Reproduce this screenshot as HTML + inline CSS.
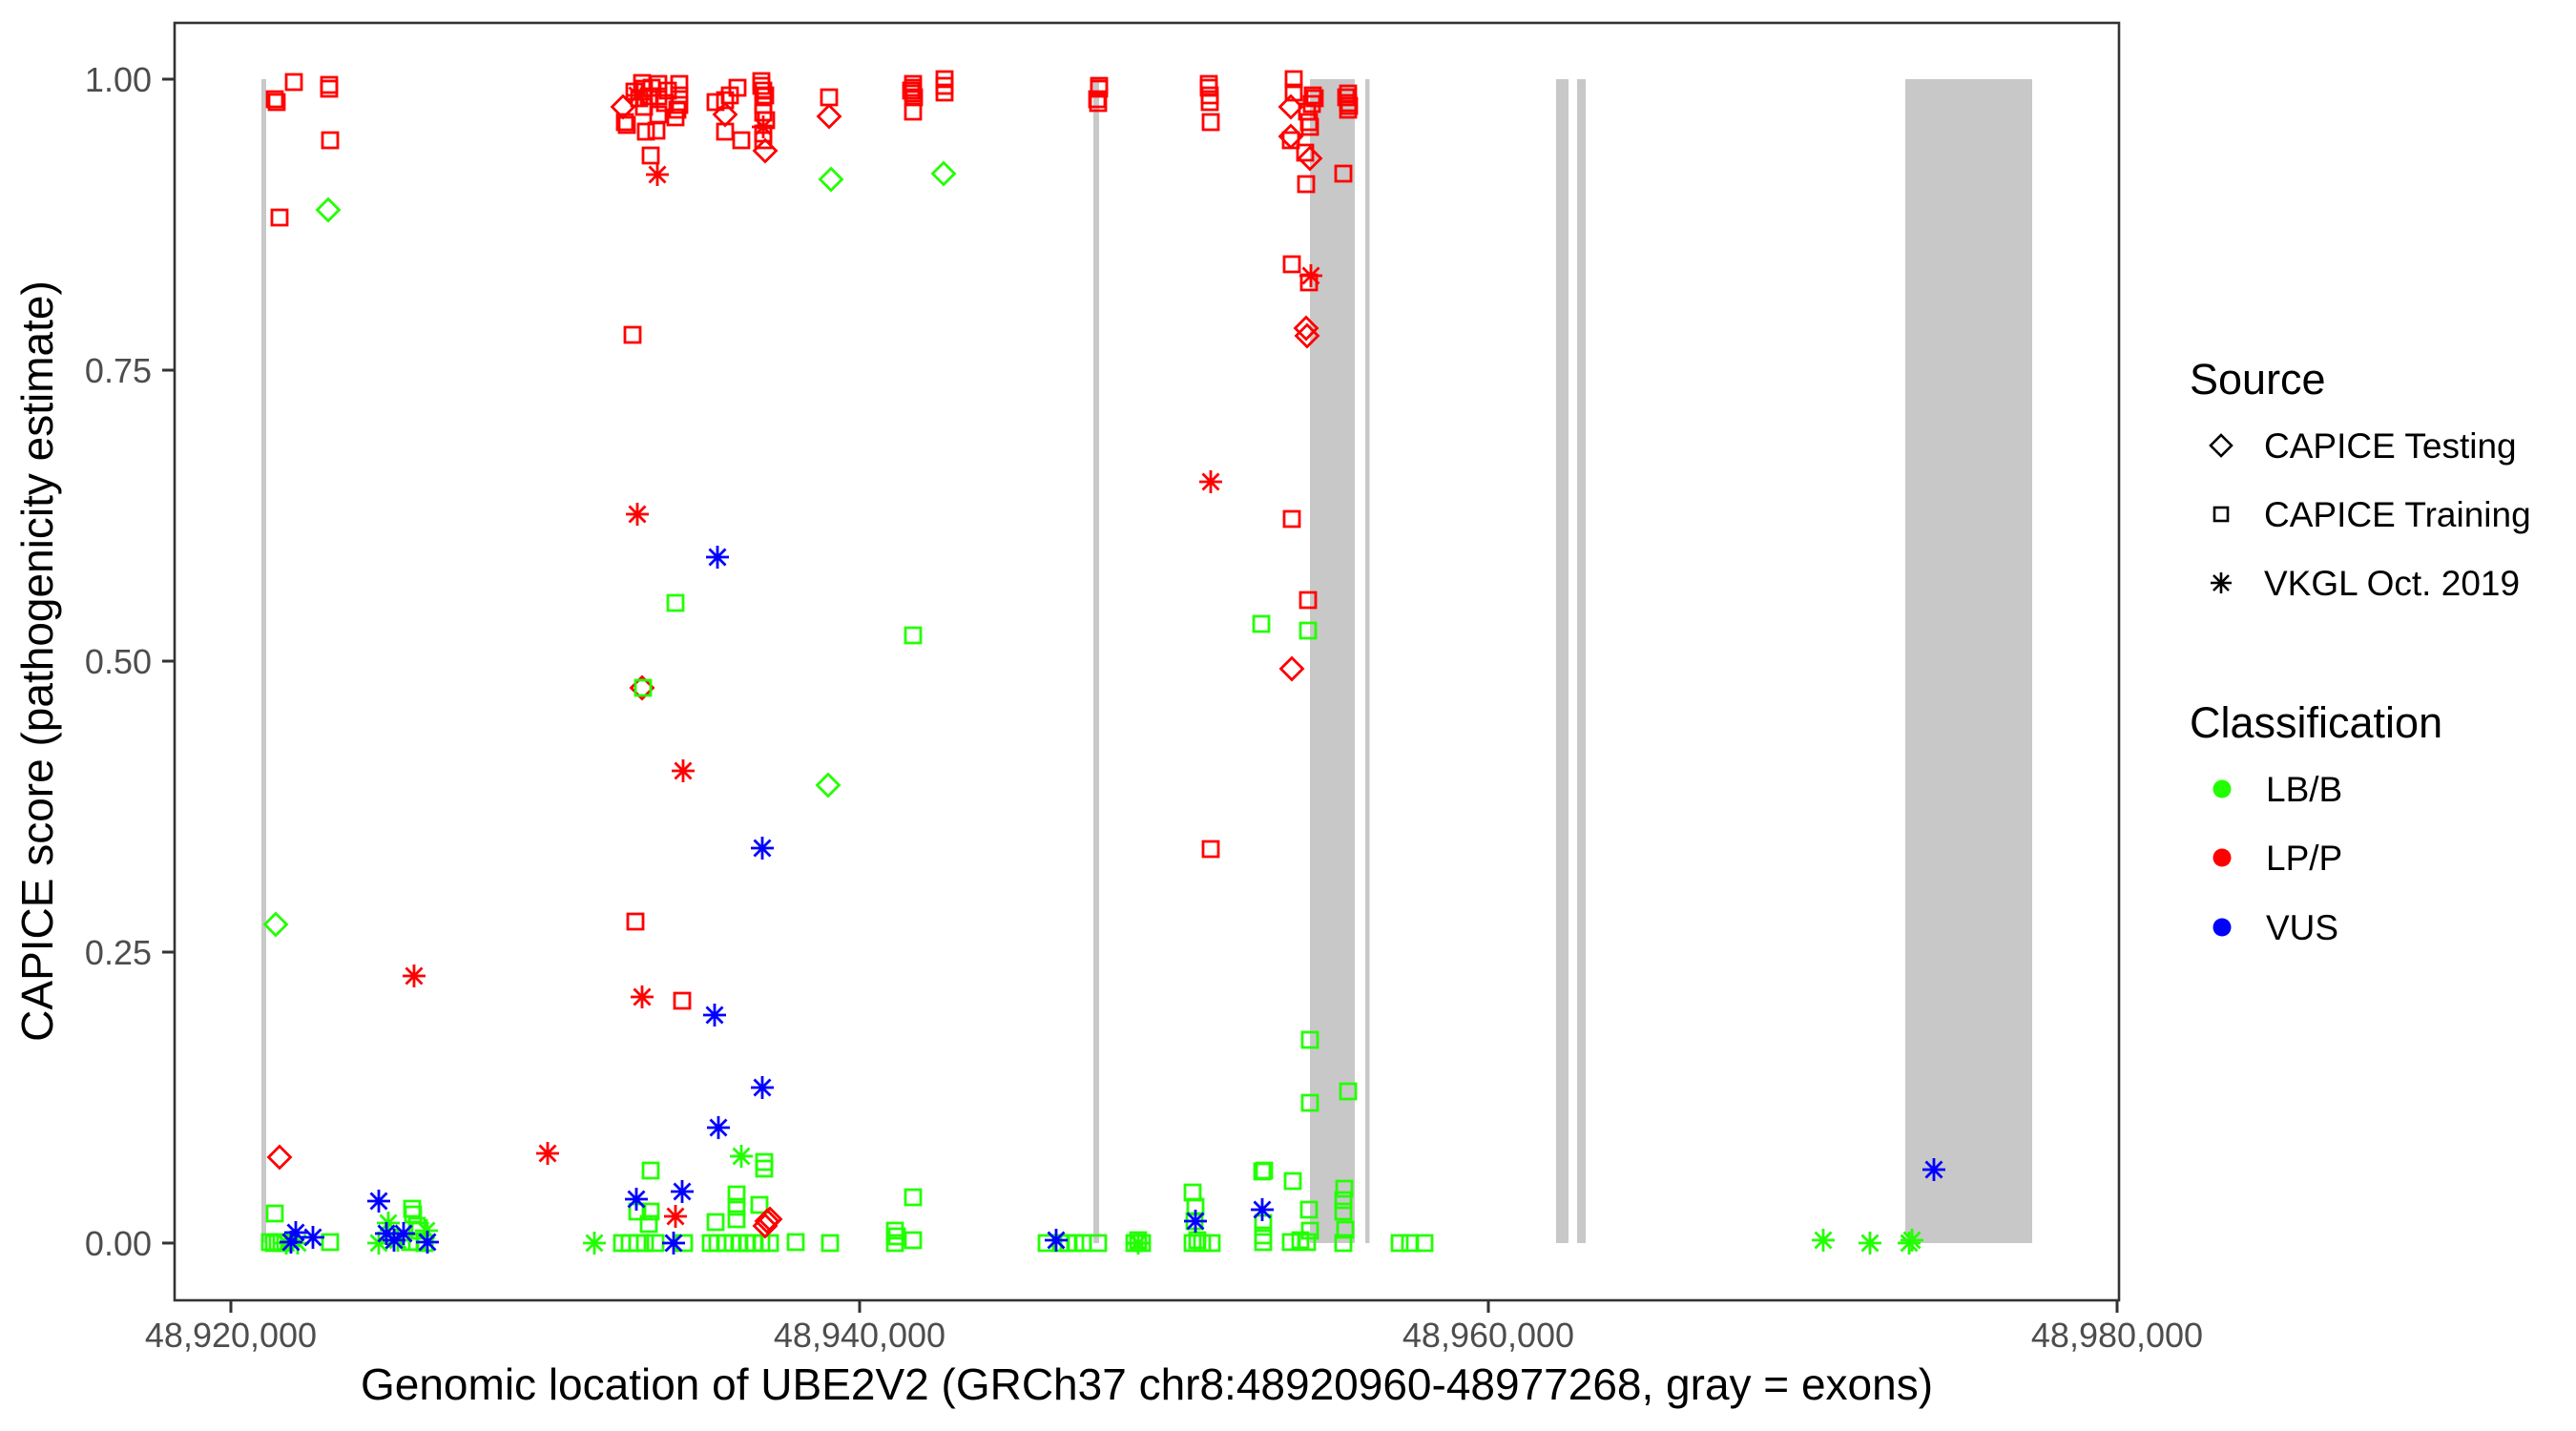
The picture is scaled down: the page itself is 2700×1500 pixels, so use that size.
<!DOCTYPE html>
<html><head><meta charset="utf-8"><style>
html,body{margin:0;padding:0;background:#fff;}
svg{display:block;}
text{font-family:"Liberation Sans",Arial,sans-serif;}
</style></head><body>
<svg width="2700" height="1500" viewBox="0 0 2700 1500" xmlns="http://www.w3.org/2000/svg">
<defs>
<path id="s" d="M-8,-8h16v16h-16z"/>
<path id="d" d="M0,-11.5L11.5,0L0,11.5L-11.5,0z"/>
<path id="a" d="M0,-12V12M-12,0H12M-8.5,-8.5L8.5,8.5M-8.5,8.5L8.5,-8.5"/>
</defs>
<rect x="0" y="0" width="2700" height="1500" fill="#fff"/>
<!-- exons -->
<g fill="#C8C8C8">
<rect x="274" y="83" width="5" height="1220"/>
<rect x="1146" y="83" width="6" height="1220"/>
<rect x="1373" y="83" width="47" height="1220"/>
<rect x="1431" y="83" width="4.5" height="1220"/>
<rect x="1631" y="83" width="13" height="1220"/>
<rect x="1653" y="83" width="9" height="1220"/>
<rect x="1997" y="83" width="133" height="1220"/>
</g>
<!-- green -->
<g fill="none" stroke="#22FF00" stroke-width="2.8">
<use href="#d" x="344" y="220"/><use href="#d" x="289" y="969"/><use href="#d" x="871" y="188"/><use href="#d" x="989" y="182"/><use href="#d" x="868" y="823"/>
<use href="#s" x="288" y="1272"/><use href="#s" x="283" y="1302"/><use href="#s" x="287" y="1303"/><use href="#s" x="291" y="1302"/><use href="#s" x="295" y="1303"/><use href="#s" x="346" y="1302"/>
<use href="#s" x="432" y="1267"/><use href="#s" x="433" y="1273"/><use href="#s" x="437" y="1285"/><use href="#s" x="440" y="1290"/><use href="#s" x="430" y="1302"/><use href="#s" x="437" y="1302"/><use href="#s" x="445" y="1303"/>
<use href="#s" x="708" y="632"/><use href="#s" x="957" y="666"/>
<use href="#s" x="682" y="1227"/><use href="#s" x="682" y="1270"/><use href="#s" x="668" y="1270"/><use href="#s" x="680" y="1283"/><use href="#s" x="772" y="1252"/><use href="#s" x="772" y="1265"/><use href="#s" x="772" y="1278"/><use href="#s" x="750" y="1281"/><use href="#s" x="796" y="1263"/><use href="#s" x="801" y="1218"/><use href="#s" x="801" y="1225"/>
<use href="#s" x="652" y="1303"/><use href="#s" x="660" y="1303"/><use href="#s" x="668" y="1303"/><use href="#s" x="676" y="1303"/><use href="#s" x="687" y="1303"/><use href="#s" x="717" y="1303"/><use href="#s" x="745" y="1303"/><use href="#s" x="752" y="1303"/><use href="#s" x="760" y="1303"/><use href="#s" x="768" y="1303"/><use href="#s" x="775" y="1303"/><use href="#s" x="783" y="1303"/><use href="#s" x="790" y="1303"/><use href="#s" x="798" y="1303"/><use href="#s" x="807" y="1303"/><use href="#s" x="834" y="1302"/><use href="#s" x="870" y="1303"/><use href="#s" x="938" y="1290"/><use href="#s" x="938" y="1303"/><use href="#s" x="940" y="1296"/><use href="#s" x="957" y="1255"/><use href="#s" x="957" y="1300"/>
<use href="#s" x="1097" y="1303"/><use href="#s" x="1112" y="1303"/><use href="#s" x="1120" y="1303"/><use href="#s" x="1127" y="1303"/><use href="#s" x="1135" y="1303"/><use href="#s" x="1151" y="1303"/>
<use href="#s" x="1189" y="1303"/><use href="#s" x="1193" y="1300"/><use href="#s" x="1197" y="1303"/>
<use href="#s" x="1250" y="1250"/><use href="#s" x="1253" y="1265"/><use href="#s" x="1252" y="1280"/><use href="#s" x="1250" y="1303"/><use href="#s" x="1260" y="1303"/><use href="#s" x="1270" y="1303"/><use href="#s" x="1255" y="1300"/>
<use href="#s" x="1325" y="1227"/><use href="#s" x="1323" y="1228"/><use href="#s" x="1324" y="1282"/><use href="#s" x="1324" y="1302"/><use href="#s" x="1324" y="1295"/><use href="#s" x="1322" y="654"/>
<use href="#s" x="1355" y="1238"/><use href="#s" x="1373" y="1156"/><use href="#s" x="1413" y="1144"/><use href="#s" x="1373" y="1090"/><use href="#s" x="1371" y="661"/>
<use href="#s" x="1372" y="1268"/><use href="#s" x="1373" y="1290"/><use href="#s" x="1353" y="1302"/><use href="#s" x="1370" y="1302"/><use href="#s" x="1363" y="1300"/>
<use href="#s" x="1409" y="1246"/><use href="#s" x="1408" y="1258"/><use href="#s" x="1408" y="1270"/><use href="#s" x="1410" y="1289"/><use href="#s" x="1408" y="1303"/>
<use href="#s" x="1467" y="1303"/><use href="#s" x="1478" y="1303"/><use href="#s" x="1493" y="1303"/>
<use href="#a" x="623" y="1303"/><use href="#a" x="777" y="1212"/><use href="#a" x="1911" y="1300"/><use href="#a" x="1960" y="1303"/><use href="#a" x="2001" y="1303"/><use href="#a" x="2004" y="1300"/><use href="#a" x="407" y="1282"/><use href="#a" x="397" y="1303"/><use href="#a" x="417" y="1300"/><use href="#a" x="447" y="1290"/><use href="#a" x="312" y="1303"/><use href="#a" x="300" y="1303"/><use href="#a" x="1193" y="1303"/>
</g>
<!-- blue -->
<g fill="none" stroke="#0000FF" stroke-width="2.8">
<use href="#a" x="752" y="584"/><use href="#a" x="799" y="889"/><use href="#a" x="749" y="1064"/><use href="#a" x="799" y="1140"/><use href="#a" x="753" y="1182"/><use href="#a" x="667" y="1257"/><use href="#a" x="715" y="1249"/><use href="#a" x="706" y="1303"/>
<use href="#a" x="310" y="1292"/><use href="#a" x="328" y="1297"/><use href="#a" x="305" y="1302"/><use href="#a" x="397" y="1259"/><use href="#a" x="405" y="1293"/><use href="#a" x="423" y="1293"/><use href="#a" x="448" y="1302"/><use href="#a" x="413" y="1300"/>
<use href="#a" x="1107" y="1300"/><use href="#a" x="1253" y="1280"/><use href="#a" x="1323" y="1268"/><use href="#a" x="2027" y="1226"/>
</g>
<!-- red -->
<g fill="none" stroke="#FF0000" stroke-width="2.8">
<use href="#s" x="288" y="104"/><use href="#s" x="290" y="107"/><use href="#s" x="308" y="86"/><use href="#s" x="345" y="89"/><use href="#s" x="345" y="93"/><use href="#s" x="346" y="147"/><use href="#s" x="293" y="228"/>
<use href="#s" x="673" y="87"/><use href="#s" x="675" y="93"/><use href="#s" x="690" y="88"/><use href="#s" x="712" y="88"/><use href="#s" x="712" y="100"/><use href="#s" x="712" y="110"/><use href="#s" x="670" y="103"/><use href="#s" x="655" y="128"/><use href="#s" x="657" y="131"/><use href="#s" x="677" y="138"/><use href="#s" x="688" y="137"/><use href="#s" x="708" y="123"/><use href="#s" x="710" y="115"/><use href="#s" x="682" y="163"/><use href="#s" x="665" y="96"/><use href="#s" x="680" y="101"/><use href="#s" x="690" y="101"/><use href="#s" x="700" y="95"/><use href="#s" x="675" y="112"/><use href="#s" x="690" y="120"/><use href="#s" x="683" y="92"/><use href="#s" x="697" y="108"/>
<use href="#s" x="773" y="92"/><use href="#s" x="750" y="107"/><use href="#s" x="760" y="105"/><use href="#s" x="760" y="138"/><use href="#s" x="777" y="147"/><use href="#s" x="765" y="100"/>
<use href="#s" x="798" y="90"/><use href="#s" x="802" y="100"/><use href="#s" x="800" y="118"/><use href="#s" x="800" y="140"/><use href="#s" x="800" y="147"/><use href="#s" x="800" y="95"/><use href="#s" x="800" y="110"/><use href="#s" x="803" y="126"/><use href="#s" x="798" y="85"/>
<use href="#s" x="869" y="102"/>
<use href="#s" x="957" y="92"/><use href="#s" x="957" y="98"/><use href="#s" x="957" y="117"/><use href="#s" x="955" y="95"/><use href="#s" x="958" y="102"/><use href="#s" x="957" y="88"/>
<use href="#s" x="990" y="83"/><use href="#s" x="990" y="97"/><use href="#s" x="990" y="90"/>
<use href="#s" x="663" y="351"/><use href="#s" x="666" y="966"/><use href="#s" x="715" y="1049"/><use href="#s" x="1269" y="890"/>
<use href="#s" x="1152" y="93"/><use href="#s" x="1151" y="108"/><use href="#s" x="1150" y="104"/><use href="#s" x="1152" y="90"/>
<use href="#s" x="1267" y="92"/><use href="#s" x="1268" y="100"/><use href="#s" x="1268" y="107"/><use href="#s" x="1269" y="128"/><use href="#s" x="1267" y="88"/>
<use href="#s" x="1356" y="83"/><use href="#s" x="1356" y="97"/><use href="#s" x="1376" y="100"/><use href="#s" x="1370" y="117"/><use href="#s" x="1373" y="133"/><use href="#s" x="1353" y="147"/><use href="#s" x="1368" y="160"/><use href="#s" x="1369" y="193"/><use href="#s" x="1378" y="103"/><use href="#s" x="1375" y="109"/><use href="#s" x="1372" y="128"/>
<use href="#s" x="1413" y="98"/><use href="#s" x="1413" y="108"/><use href="#s" x="1413" y="115"/><use href="#s" x="1408" y="182"/><use href="#s" x="1411" y="102"/><use href="#s" x="1414" y="111"/>
<use href="#s" x="1354" y="277"/><use href="#s" x="1354" y="544"/><use href="#s" x="1371" y="629"/><use href="#s" x="1372" y="296"/>
<use href="#d" x="293" y="1213"/><use href="#d" x="653" y="112"/><use href="#d" x="760" y="120"/><use href="#d" x="802" y="158"/><use href="#d" x="869" y="122"/><use href="#d" x="673" y="721"/><use href="#d" x="804" y="1280"/><use href="#d" x="807" y="1278"/><use href="#d" x="802" y="1285"/><use href="#d" x="1353" y="112"/><use href="#d" x="1353" y="143"/><use href="#d" x="1373" y="166"/><use href="#d" x="1369" y="344"/><use href="#d" x="1370" y="352"/><use href="#d" x="1354" y="701"/>
<use href="#a" x="689" y="183"/><use href="#a" x="668" y="539"/><use href="#a" x="716" y="808"/><use href="#a" x="673" y="1045"/><use href="#a" x="434" y="1023"/><use href="#a" x="574" y="1209"/><use href="#a" x="708" y="1275"/><use href="#a" x="1269" y="505"/><use href="#a" x="1374" y="289"/><use href="#a" x="800" y="133"/><use href="#a" x="668" y="100"/>
</g>
<!-- green square overlapping red diamond -->
<use href="#s" x="674" y="721" fill="none" stroke="#22FF00" stroke-width="2.8"/>
<!-- panel border -->
<rect x="183" y="24" width="2038" height="1339" fill="none" stroke="#333333" stroke-width="2.6"/>
<!-- ticks -->
<g stroke="#333333" stroke-width="3">
<line x1="170" y1="83" x2="183" y2="83"/>
<line x1="170" y1="388" x2="183" y2="388"/>
<line x1="170" y1="693" x2="183" y2="693"/>
<line x1="170" y1="998" x2="183" y2="998"/>
<line x1="170" y1="1303" x2="183" y2="1303"/>
<line x1="242" y1="1363" x2="242" y2="1376"/>
<line x1="901" y1="1363" x2="901" y2="1376"/>
<line x1="1560" y1="1363" x2="1560" y2="1376"/>
<line x1="2219" y1="1363" x2="2219" y2="1376"/>
</g>
<g fill="#4D4D4D" font-size="36" text-anchor="end">
<text x="159" y="96">1.00</text>
<text x="159" y="401">0.75</text>
<text x="159" y="706">0.50</text>
<text x="159" y="1011">0.25</text>
<text x="159" y="1316">0.00</text>
</g>
<g fill="#4D4D4D" font-size="36" text-anchor="middle">
<text x="242" y="1412">48,920,000</text>
<text x="901" y="1412">48,940,000</text>
<text x="1560" y="1412">48,960,000</text>
<text x="2219" y="1412">48,980,000</text>
</g>
<text x="1202" y="1467" font-size="46" text-anchor="middle" fill="#000">Genomic location of UBE2V2 (GRCh37 chr8:48920960-48977268, gray = exons)</text>
<text transform="translate(55,693) rotate(-90)" font-size="46" text-anchor="middle" fill="#000">CAPICE score (pathogenicity estimate)</text>
<!-- legend -->
<text x="2295" y="413" font-size="45" fill="#000">Source</text>
<g fill="none" stroke="#000" stroke-width="2.6">
<path d="M2328,456L2339,467L2328,478L2317,467z"/>
<rect x="2321" y="532" width="14" height="14"/>
<path d="M2328,600V622M2317,611H2339M2320,603L2336,619M2320,619L2336,603"/>
</g>
<g font-size="37" fill="#000">
<text x="2373" y="480">CAPICE Testing</text>
<text x="2373" y="552">CAPICE Training</text>
<text x="2373" y="624">VKGL Oct. 2019</text>
</g>
<text x="2295" y="773" font-size="45" fill="#000">Classification</text>
<circle cx="2329" cy="827" r="9.5" fill="#22FF00"/>
<circle cx="2329" cy="899" r="9.5" fill="#FF0000"/>
<circle cx="2329" cy="972" r="9.5" fill="#0000FF"/>
<g font-size="37" fill="#000">
<text x="2375" y="840">LB/B</text>
<text x="2375" y="912">LP/P</text>
<text x="2375" y="985">VUS</text>
</g>
</svg>
</body></html>
